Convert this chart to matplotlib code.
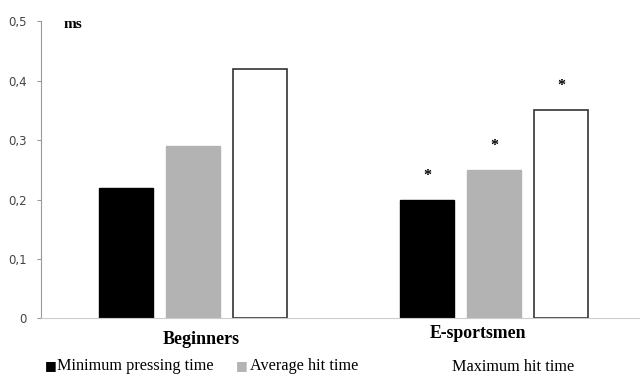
import matplotlib
matplotlib.use('Agg')
import matplotlib.pyplot as plt
import numpy as np

groups = ['Beginners', 'E-sportsmen']
series_names = ['Minimum pressing time', 'Average hit time', 'Maximum hit time']
min_press = [0.22, 0.20]
avg_hit = [0.29, 0.25]
max_hit = [0.42, 0.35]
significant = [False, True]
y_ticks = [0, 0.1, 0.2, 0.3, 0.4, 0.5]
y_labels = ['0', '0,1', '0,2', '0,3', '0,4', '0,5']

fig = plt.figure(figsize=(6.4, 3.76), dpi=100)
ax = fig.add_axes([0.064, 0.153, 0.936, 0.791])

x = np.arange(len(groups))
width = 0.179
step = 0.222
styles = [
    dict(color='black', edgecolor='black'),
    dict(color='#b3b3b3', edgecolor='#b3b3b3'),
    dict(color='white', edgecolor='#333333', linewidth=1.2),
]
for i, (vals, st) in enumerate(zip([min_press, avg_hit, max_hit], styles)):
    pos = x + (i - 1) * step
    ax.bar(pos, vals, width, **st)
    for p, v, s in zip(pos, vals, significant):
        if s:
            ax.text(p, v + 0.04, '*', ha='center', va='center',
                    fontsize=11.5, fontweight='bold', family='Liberation Serif')

ax.set_xlim(-0.504, 1.483)
ax.set_ylim(0, 0.5)
ax.set_yticks(y_ticks)
ax.set_yticklabels(y_labels, fontsize=8.5, color='#444444')
ax.tick_params(axis='y', length=3, color='#999999', pad=7)
ax.set_xticks([])
for s in ['top', 'right']:
    ax.spines[s].set_visible(False)
ax.spines['left'].set_color('#999999')
ax.spines['bottom'].set_color('#cccccc')
ax.spines['bottom'].set_linestyle((0, (1, 1)))

ax.text(0.037, 0.99, 'ms', transform=ax.transAxes, ha='left', va='center',
        fontsize=11, fontweight='bold', family='Liberation Serif')

fig.text(201 / 640, 1 - 340 / 376, groups[0], ha='center', va='center',
         fontsize=13, fontweight='bold', family='Liberation Serif')
fig.text(478 / 640, 1 - 334 / 376, groups[1], ha='center', va='center',
         fontsize=12.8, fontweight='bold', family='Liberation Serif')

# legend drawn by hand to keep the odd spacing of the original
leg_y = 1 - 366 / 376
fig.text(45 / 640, leg_y, '\u25a0', ha='left', va='center', fontsize=9, color='black')
fig.text(57 / 640, leg_y, series_names[0], ha='left', va='center',
         fontsize=11.7, family='Liberation Serif')
fig.text(236 / 640, leg_y, '\u25a0', ha='left', va='center', fontsize=9, color='#b3b3b3')
fig.text(250 / 640, leg_y, series_names[1], ha='left', va='center',
         fontsize=11.7, family='Liberation Serif')
fig.text(452 / 640, 1 - 367 / 376, series_names[2], ha='left', va='center',
         fontsize=11.7, family='Liberation Serif')

fig.savefig('out.png', dpi=100)
